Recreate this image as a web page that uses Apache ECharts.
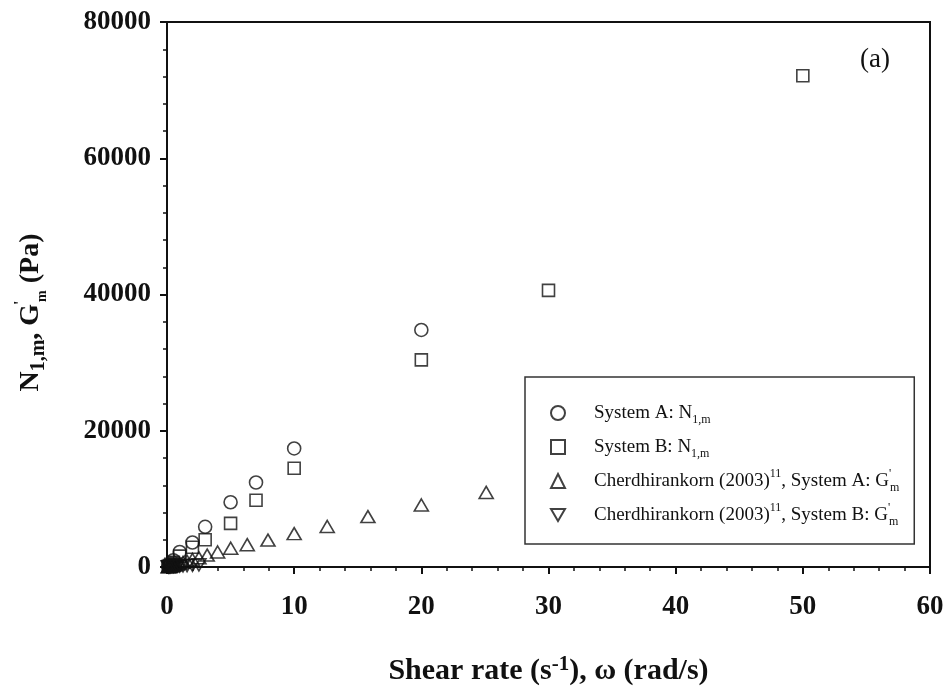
<!DOCTYPE html>
<html>
<head>
<meta charset="utf-8">
<script src="https://cdn.jsdelivr.net/npm/echarts@6/dist/echarts.min.js"></script>
<style>
html,body{margin:0;padding:0;background:#fff;}
#chart{width:948px;height:695px;}
</style>
</head>
<body>
<div id="chart"></div>
<script>
// ---- data ----
const xTicks = [0, 10, 20, 30, 40, 50, 60];
const yTicks = [0, 20000, 40000, 60000, 80000];

const sysA_N1_x = [0.1, 0.2, 0.3, 0.5, 1, 2, 3, 5, 7, 10, 20];
const sysA_N1_y = [150, 300, 500, 1000, 2200, 3600, 5900, 9500, 12400, 17400, 34800];

const sysB_N1_x = [0.1, 0.2, 0.3, 0.5, 1, 2, 3, 5, 7, 10, 20, 30, 50];
const sysB_N1_y = [100, 200, 400, 700, 1600, 2900, 4000, 6400, 9800, 14500, 30400, 40600, 72100];

const sysA_G_x = [0.1, 0.126, 0.158, 0.2, 0.251, 0.316, 0.398, 0.501, 0.631, 0.794, 1, 1.26, 1.58, 2, 2.51, 3.16, 3.98, 5.01, 6.31, 7.94, 10, 12.6, 15.8, 20, 25.1];
const sysA_G_y = [50, 65, 85, 105, 135, 170, 215, 270, 340, 430, 540, 680, 850, 1100, 1350, 1750, 2200, 2750, 3280, 3950, 4900, 5950, 7400, 9100, 10950];

const sysB_G_x = [0.1, 0.126, 0.158, 0.2, 0.251, 0.316, 0.398, 0.501, 0.631, 0.794, 1, 1.26, 1.58, 2, 2.51];
const sysB_G_y = [10, 15, 20, 25, 35, 45, 55, 70, 90, 110, 140, 170, 210, 260, 320];

const seriesNames = ['System A: N1,m', 'System B: N1,m', 'Cherdhirankorn (2003)11, System A: G\'m', 'Cherdhirankorn (2003)11, System B: G\'m'];
const legendRich = {
  'System A: N1,m': '{t|System A: N}{sub|1,m}',
  'System B: N1,m': '{t|System B: N}{sub|1,m}',
  'Cherdhirankorn (2003)11, System A: G\'m': '{t|Cherdhirankorn (2003)}{sup|11}{t|, System A: G}{pr|\'}{sub|m}',
  'Cherdhirankorn (2003)11, System B: G\'m': '{t|Cherdhirankorn (2003)}{sup|11}{t|, System B: G}{pr|\'}{sub|m}'
};

function pairs(xs, ys) { return xs.map((x, i) => [x, ys[i]]); }

const FONT = '"Liberation Serif", "Times New Roman", serif';
const chart = echarts.init(document.getElementById('chart'), null, {renderer: 'canvas'});

const markerStyle = {color: 'rgba(255,255,255,0)', borderColor: '#111', borderWidth: 1.6};

const option = {
  backgroundColor: '#ffffff',
  animation: false,
  title: {
    text: '(a)', left: 855, top: 41,
    textStyle: {fontFamily: FONT, fontSize: 27, fontWeight: 'normal', color: '#111'}
  },
  grid: {
    left: 167, right: 18, top: 22, bottom: 128,
    show: true, borderColor: '#111', borderWidth: 2, backgroundColor: 'transparent'
  },
  legend: {
    orient: 'vertical',
    left: 525, top: 377,
    padding: [23, 15, 16, 25],
    itemGap: 8,
    itemWidth: 14, itemHeight: 14,
    borderColor: '#333', borderWidth: 1.5,
    data: [
      {name: seriesNames[0]},
      {name: seriesNames[1]},
      {name: seriesNames[2]},
      {name: seriesNames[3], icon: 'path://M0,0L14,0L7,12Z'}
    ],
    formatter: name => legendRich[name],
    textStyle: {
      fontFamily: FONT, color: '#111', padding: [0, 0, 0, 24], height: 26, lineHeight: 26,
      rich: {
        t: {fontFamily: FONT, fontSize: 19, lineHeight: 26, color: '#111'},
        sub: {fontFamily: FONT, fontSize: 12, lineHeight: 12, verticalAlign: 'bottom', color: '#111'},
        sup: {fontFamily: FONT, fontSize: 12, lineHeight: 12, verticalAlign: 'top', color: '#111'},
        pr: {fontFamily: FONT, fontSize: 12, lineHeight: 12, verticalAlign: 'top', color: '#111', width: 1}
      }
    }
  },
  xAxis: {
    type: 'value', min: 0, max: 60, interval: 10,
    name: '{b|Shear rate (s}{sup|-1}{b|), ω (rad/s)}',
    nameLocation: 'middle', nameGap: 87,
    nameTextStyle: {
      rich: {
        b: {fontFamily: FONT, fontSize: 30, fontWeight: 'bold', color: '#111', lineHeight: 35},
        sup: {fontFamily: FONT, fontSize: 21, fontWeight: 'bold', color: '#111', lineHeight: 21, verticalAlign: 'top'}
      }
    },
    axisLine: {show: true, onZero: false, lineStyle: {color: '#111', width: 2}},
    axisTick: {show: true, inside: false, length: 7, lineStyle: {color: '#111', width: 2}},
    minorTick: {show: true, splitNumber: 5, length: 4, lineStyle: {color: '#111', width: 1.5}},
    splitLine: {show: false},
    axisLabel: {
      margin: 27, fontFamily: FONT, fontSize: 27, fontWeight: 'bold', color: '#111',
      formatter: v => xTicks.includes(v) ? String(v) : ''
    }
  },
  yAxis: {
    type: 'value', min: 0, max: 80000, interval: 20000,
    name: '{b|N}{sub|1,m}{b|, G}{pr|\'}{sm|m}{b| (Pa)}',
    nameLocation: 'middle', nameGap: 118, nameRotate: 90,
    nameTextStyle: {
      padding: [0, 36, 0, 0],
      rich: {
        b: {fontFamily: FONT, fontSize: 28, fontWeight: 'bold', color: '#111', lineHeight: 36},
        sub: {fontFamily: FONT, fontSize: 20, fontWeight: 'bold', color: '#111', lineHeight: 20, verticalAlign: 'bottom'},
        sm: {fontFamily: FONT, fontSize: 14, fontWeight: 'bold', color: '#111', lineHeight: 16, verticalAlign: 'bottom'},
        pr: {fontFamily: FONT, fontSize: 16, fontWeight: 'bold', color: '#111', lineHeight: 16, verticalAlign: 'top', width: 2}
      }
    },
    axisLine: {show: true, onZero: false, lineStyle: {color: '#111', width: 2}},
    axisTick: {show: true, inside: false, length: 7, lineStyle: {color: '#111', width: 2}},
    minorTick: {show: true, splitNumber: 5, length: 4, lineStyle: {color: '#111', width: 1.5}},
    splitLine: {show: false},
    axisLabel: {
      margin: 16, fontFamily: FONT, fontSize: 27, fontWeight: 'bold', color: '#111',
      formatter: v => yTicks.includes(v) ? String(v) : ''
    }
  },
  series: [
    {name: seriesNames[0], type: 'scatter', symbol: 'circle', symbolSize: 13,
     itemStyle: markerStyle, data: pairs(sysA_N1_x, sysA_N1_y)},
    {name: seriesNames[1], type: 'scatter', symbol: 'rect', symbolSize: 12,
     itemStyle: markerStyle, data: pairs(sysB_N1_x, sysB_N1_y)},
    {name: seriesNames[2], type: 'scatter', symbol: 'triangle', symbolSize: [14, 12],
     itemStyle: markerStyle, data: pairs(sysA_G_x, sysA_G_y)},
    {name: seriesNames[3], type: 'scatter', symbol: 'triangle', symbolRotate: 180, symbolSize: [14, 12],
     itemStyle: markerStyle, data: pairs(sysB_G_x, sysB_G_y)}
  ]
};
chart.setOption(option);
</script>
</body>
</html>
